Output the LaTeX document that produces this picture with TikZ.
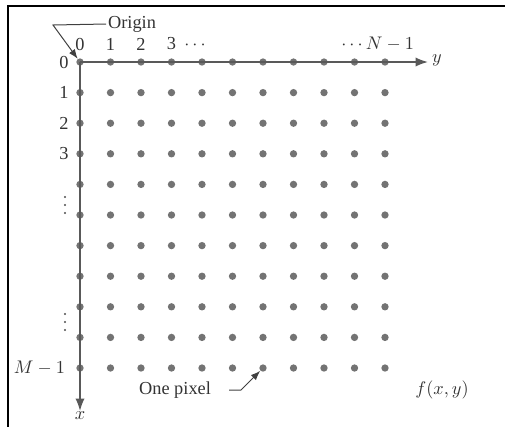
\documentclass[tikz,border=0pt]{standalone}
\usepackage{fontspec}
\setmainfont{Liberation Serif}
\usetikzlibrary{arrows.meta}

\begin{document}
\begin{tikzpicture}[
    x=0.6pt, y=-0.6pt,
    >=Latex,
    font=\fontsize{11}{13}\selectfont,
    every node/.style={text=black!80},
    pix/.style={circle, fill=black!55, inner sep=0pt, minimum size=4.4pt},
    vdot/.style={circle, fill=black!70, inner sep=0pt, minimum size=1.3pt},
    axis/.style={draw=black!65, line width=1pt},
    lead/.style={draw=black!75, line width=0.6pt},
    lbl/.style={inner sep=1pt},
  ]
    \useasboundingbox (0,0) rectangle (505,427);
    % frame edges
    \draw[line width=0.9pt] (505,6) -- (8,6) -- (8,427);

    % pixel grid
    \foreach \r in {0,...,10}
      \foreach \c in {0,...,10}
        \node[pix] (p-\r-\c) at ({80+30.5*\c},{62+30.6*\r}) {};

    % axes
    \coordinate (yend) at (428,62);
    \coordinate (xend) at (80,411);
    \draw[axis,->] (p-0-0.center) -- (yend);
    \draw[axis,->] (p-0-0.center) -- (xend);
    \node[lbl, anchor=west] (ylab) at (430,60) {$y$};
    \node[lbl, anchor=north] (xlab) at (80,410) {$x$};

    % column indices
    \foreach \c in {0,...,3}
      \node[lbl] (ct-\c) at ({80+30.5*\c},44) {\c};
    \node[lbl] (cdots) at (195,45) {$\cdots$};
    \node[lbl] (cdots2) at (352,45) {$\cdots$};
    \node[lbl] (cN) at (390,44) {$N-1$};

    % row indices
    \foreach \r in {0,...,3}
      \node[lbl] (rt-\r) at (64,{62+30.6*\r}) {\r};
    \foreach \y [count=\i] in {197,205,213,314,322,330}
      \node[vdot] (vd-\i) at (65,\y) {};
    \node[lbl, anchor=east] (rM) at (67,368) {$M-1$};

    % origin call-out
    \node[lbl] (orig) at (132,24) {Origin};
    \coordinate (obend) at (53,25);
    \draw[lead,->] (orig.west) -- (obend) -- (p-0-0);

    % one pixel call-out
    \node[lbl] (onepix) at (175,390) {One pixel};
    \coordinate (pa) at (229,390);
    \coordinate (pb) at (241,390);
    \draw[lead,->] (pa) -- (pb) -- (p-10-6);

    \node[lbl] (fxy) at (442,390) {$f(x,y)$};
\end{tikzpicture}
\end{document}
